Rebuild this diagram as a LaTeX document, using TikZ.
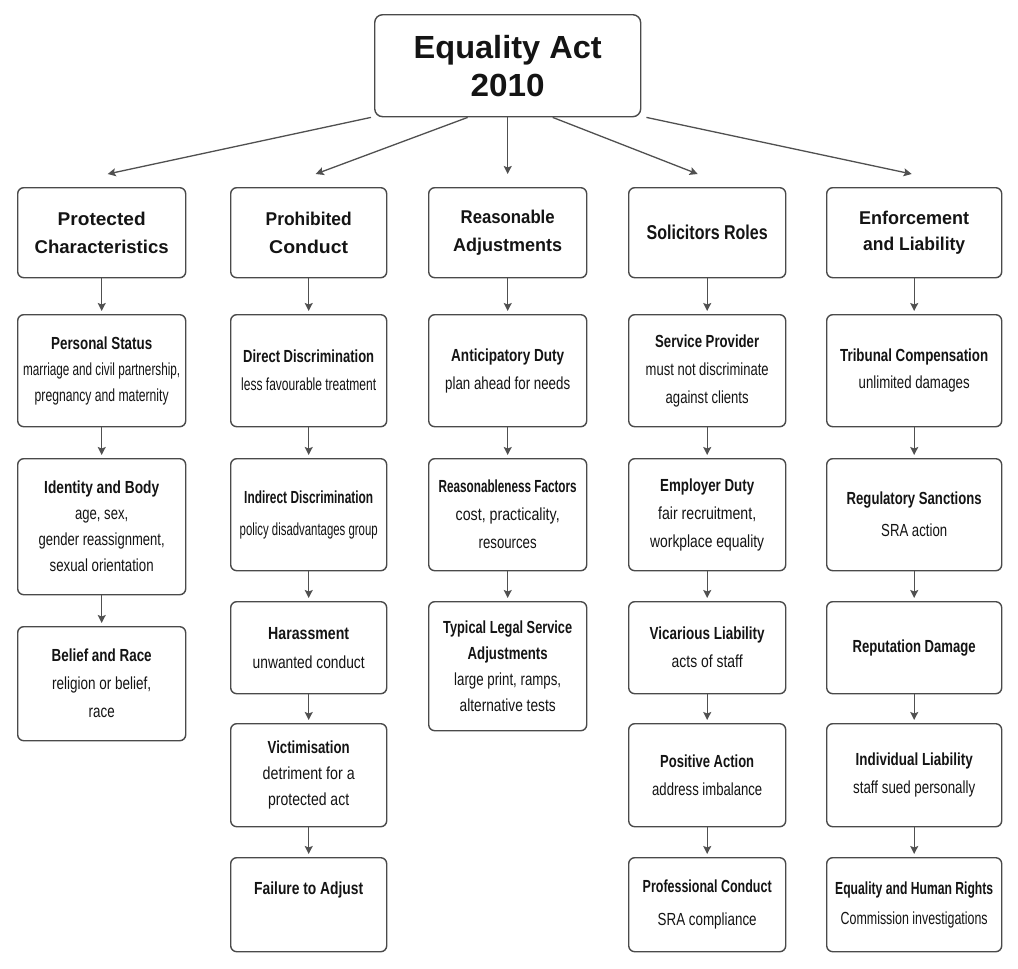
\documentclass[tikz,border=0pt]{standalone}
\usepackage{fontspec}
\setmainfont{Liberation Sans}
\usepackage{graphicx}
\usetikzlibrary{arrows.meta}
\definecolor{bordc}{HTML}{4A4A4A}
\definecolor{arrc}{HTML}{505050}
\definecolor{txtc}{HTML}{141414}
\newcommand{\wl}[2]{\resizebox{#1pt}{\height}{#2}}
\tikzset{
  nbox/.style={draw=bordc, line width=1.4pt, rounded corners=6pt, inner sep=0pt,
    anchor=north west, align=center, text=txtc, fill=white,
    font=\fontsize{17.5}{26}\selectfont},
  headbox/.style={nbox, minimum height=90pt, font=\fontsize{18.5}{28}\selectfont\bfseries},
  arrline/.style={draw=arrc, line width=1.3pt, -{Stealth[length=8pt,width=8pt,inset=1.5pt]}},
  colarr/.style={arrline, shorten >=3pt},
}
\begin{document}
\begin{tikzpicture}[x=1pt,y=-1pt]
\useasboundingbox[fill=white] (0,0) rectangle (1018,969);
% title
\node[nbox, rounded corners=8pt, minimum width=266pt, minimum height=102pt,
  font=\fontsize{32}{38}\selectfont\bfseries] (top) at (374,14) {\wl{188}{Equality Act}\\\wl{74}{2010}};
% headers
\node[headbox, minimum width=168pt] (pc) at (17,187) {\wl{88}{Protected}\\\wl{134}{Characteristics}};
\node[headbox, minimum width=156pt] (pr) at (230,187) {\wl{86}{Prohibited}\\\wl{79}{Conduct}};
\node[headbox, minimum width=158pt] (ra) at (428,187) {\wl{94}{Reasonable}\\\wl{109}{Adjustments}};
\node[headbox, minimum width=157pt, font=\fontsize{20}{28}\selectfont\bfseries] (sr) at (628,187) {\wl{121}{Solicitors Roles}};
\node[headbox, minimum width=175pt] (el) at (826,187) {\wl{110}{Enforcement}\\[-2pt]\wl{102}{and Liability}};
% column 1
\node[nbox, minimum width=168pt, minimum height=112pt] (c1a) at (17,314) {\textbf{\wl{101}{Personal Status}}\\\wl{157}{marriage and civil partnership,}\\\wl{134}{pregnancy and maternity}};
\node[nbox, minimum width=168pt, minimum height=136pt] (c1b) at (17,458) {\textbf{\wl{115}{Identity and Body}}\\\wl{53}{age, sex,}\\\wl{126}{gender reassignment,}\\\wl{104}{sexual orientation}};
\node[nbox, minimum width=168pt, minimum height=114pt] (c1c) at (17,626) {\textbf{\wl{100}{Belief and Race}}\\[2pt]\wl{99}{religion or belief,}\\[2pt]\wl{26}{race}};
% column 2
\node[nbox, minimum width=156pt, minimum height=112pt] (c2a) at (230,314) {\textbf{\wl{131}{Direct Discrimination}}\\[2pt]\wl{135}{less favourable treatment}};
\node[nbox, minimum width=156pt, minimum height=112pt] (c2b) at (230,458) {\textbf{\wl{129}{Indirect Discrimination}}\\[6pt]\wl{138}{policy disadvantages group}};
\node[nbox, minimum width=156pt, minimum height=92pt] (c2c) at (230,601) {\textbf{\wl{81}{Harassment}}\\[3pt]\wl{112}{unwanted conduct}};
\node[nbox, minimum width=156pt, minimum height=103pt] (c2d) at (230,723) {\textbf{\wl{82}{Victimisation}}\\\wl{92}{detriment for a}\\\wl{81}{protected act}};
\node[nbox, minimum width=156pt, minimum height=94pt] (c2e) at (230,857) {\textbf{\wl{109}{Failure to Adjust}}\\\strut};
% column 3
\node[nbox, minimum width=158pt, minimum height=112pt] (c3a) at (428,314) {\textbf{\wl{113}{Anticipatory Duty}}\\[2pt]\wl{125}{plan ahead for needs}};
\node[nbox, minimum width=158pt, minimum height=112pt] (c3b) at (428,458) {\textbf{\wl{138}{Reasonableness Factors}}\\[2pt]\wl{104}{cost, practicality,}\\[2pt]\wl{58}{resources}};
\node[nbox, minimum width=158pt, minimum height=129pt] (c3c) at (428,601) {\textbf{\wl{129}{Typical Legal Service}}\\\textbf{\wl{80}{Adjustments}}\\\wl{107}{large print, ramps,}\\\wl{96}{alternative tests}};
% column 4
\node[nbox, minimum width=157pt, minimum height=112pt] (c4a) at (628,314) {\textbf{\wl{104}{Service Provider}}\\[2pt]\wl{123}{must not discriminate}\\[2pt]\wl{83}{against clients}};
\node[nbox, minimum width=157pt, minimum height=112pt] (c4b) at (628,458) {\textbf{\wl{94}{Employer Duty}}\\[2pt]\wl{98}{fair recruitment,}\\[2pt]\wl{114}{workplace equality}};
\node[nbox, minimum width=157pt, minimum height=92pt] (c4c) at (628,601) {\textbf{\wl{115}{Vicarious Liability}}\\[2pt]\wl{71}{acts of staff}};
\node[nbox, minimum width=157pt, minimum height=103pt] (c4d) at (628,723) {\textbf{\wl{94}{Positive Action}}\\[2pt]\wl{110}{address imbalance}};
\node[nbox, minimum width=157pt, minimum height=94pt] (c4e) at (628,857) {\textbf{\wl{129}{Professional Conduct}}\\[7pt]\wl{99}{SRA compliance}};
% column 5
\node[nbox, minimum width=175pt, minimum height=112pt] (c5a) at (826,314) {\textbf{\wl{148}{Tribunal Compensation}}\\[1pt]\wl{111}{unlimited damages}};
\node[nbox, minimum width=175pt, minimum height=112pt] (c5b) at (826,458) {\textbf{\wl{135}{Regulatory Sanctions}}\\[6pt]\wl{66}{SRA action}};
\node[nbox, minimum width=175pt, minimum height=92pt] (c5c) at (826,601) {\textbf{\wl{123}{Reputation Damage}}};
\node[nbox, minimum width=175pt, minimum height=103pt] (c5d) at (826,723) {\textbf{\wl{117}{Individual Liability}}\\[2pt]\wl{122}{staff sued personally}};
\node[nbox, minimum width=175pt, minimum height=94pt] (c5e) at (826,857) {\textbf{\wl{158}{Equality and Human Rights}}\\[4pt]\wl{147}{Commission investigations}};
% arrows from title
\draw[arrline] ([xshift=-3pt]top.south west) -- ([xshift=6pt,yshift=13pt]pc.north);
\draw[arrline] ([xshift=-40pt]top.south) -- ([xshift=7pt,yshift=13pt]pr.north);
\draw[arrline] (top.south) -- ([yshift=13pt]ra.north);
\draw[arrline] ([xshift=45pt]top.south) -- ([xshift=-9.5pt,yshift=13pt]sr.north);
\draw[arrline] ([xshift=5pt]top.south east) -- ([xshift=-2.5pt,yshift=13pt]el.north);
% column arrows
\draw[colarr] (pc.south) -- (c1a.north);
\draw[colarr] (c1a.south) -- (c1b.north);
\draw[colarr] (c1b.south) -- (c1c.north);
\draw[colarr] (pr.south) -- (c2a.north);
\draw[colarr] (c2a.south) -- (c2b.north);
\draw[colarr] (c2b.south) -- (c2c.north);
\draw[colarr] (c2c.south) -- (c2d.north);
\draw[colarr] (c2d.south) -- (c2e.north);
\draw[colarr] (ra.south) -- (c3a.north);
\draw[colarr] (c3a.south) -- (c3b.north);
\draw[colarr] (c3b.south) -- (c3c.north);
\draw[colarr] (sr.south) -- (c4a.north);
\draw[colarr] (c4a.south) -- (c4b.north);
\draw[colarr] (c4b.south) -- (c4c.north);
\draw[colarr] (c4c.south) -- (c4d.north);
\draw[colarr] (c4d.south) -- (c4e.north);
\draw[colarr] (el.south) -- (c5a.north);
\draw[colarr] (c5a.south) -- (c5b.north);
\draw[colarr] (c5b.south) -- (c5c.north);
\draw[colarr] (c5c.south) -- (c5d.north);
\draw[colarr] (c5d.south) -- (c5e.north);
\end{tikzpicture}
\end{document}
